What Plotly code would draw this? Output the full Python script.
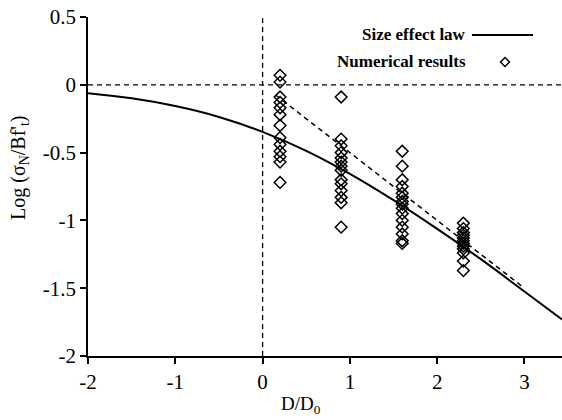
import plotly.graph_objects as go

# Size effect law curve
law_x = [-2.0, -1.5, -1.0, -0.5, 0.0, 0.5, 1.0, 1.5, 2.0, 2.5, 3.0, 3.43]
law_y = [-0.063, -0.100, -0.157, -0.237, -0.347, -0.487, -0.657, -0.851, -1.063, -1.286, -1.524, -1.73]

# Asymptote (dashed, slope -1/2)
asym_x = [0.15, 3.0]
asym_y = [-0.075, -1.5]

# Numerical results
num_x = ([0.2] * 13) + ([0.9] * 14) + ([1.6] * 15) + ([2.3] * 12)
num_y = [0.07, 0.02, -0.09, -0.13, -0.17, -0.22, -0.30, -0.39, -0.44, -0.49, -0.53, -0.57, -0.72,
         -0.09, -0.40, -0.45, -0.50, -0.54, -0.57, -0.60, -0.63, -0.70, -0.73, -0.78, -0.83, -0.87, -1.05,
         -0.49, -0.60, -0.70, -0.75, -0.80, -0.83, -0.86, -0.88, -0.91, -0.95, -1.00, -1.05, -1.10, -1.15, -1.17,
         -1.02, -1.06, -1.09, -1.11, -1.13, -1.15, -1.17, -1.19, -1.21, -1.24, -1.30, -1.37]

x_range = [-2, 3.43]
y_range = [-2, 0.5]
x_ticks = [-2, -1, 0, 1, 2, 3]
x_tick_text = ["-2", "-1", "0", "1", "2", "3"]
y_ticks = [-2, -1.5, -1, -0.5, 0, 0.5]
y_tick_text = ["-2", "-1.5", "-1", "-0.5", "0", "0.5"]

FONT = "Liberation Serif"

fig = go.Figure()
fig.add_trace(go.Scatter(x=law_x, y=law_y, mode="lines", line=dict(color="black", width=2, shape="spline"),
                         showlegend=False))
fig.add_trace(go.Scatter(x=asym_x, y=asym_y, mode="lines", line=dict(color="black", width=1.5, dash="5px,4px"),
                         showlegend=False))
fig.add_trace(go.Scatter(x=num_x, y=num_y, mode="markers",
                         marker=dict(symbol="diamond-open", size=9, color="black", line=dict(width=1.5, color="black")),
                         showlegend=False))

# reference dashed lines at x=0 and y=0
fig.add_shape(type="line", xref="x", yref="y", x0=0, x1=0, y0=y_range[0], y1=y_range[1],
              line=dict(color="black", width=1.3, dash="5px,4px"))
fig.add_shape(type="line", xref="x", yref="y", x0=x_range[0], x1=x_range[1], y0=0, y1=0,
              line=dict(color="black", width=1.3, dash="5px,4px"))

# custom legend (symbols on the right)
W, H = 562, 420
ml, mr, mt, mb = 88, 0, 17, 64
pw, ph = W - ml - mr, H - mt - mb

def px(xp):
    return (xp - ml) / pw

def py(yp):
    return (H - mb - yp) / ph

fig.add_annotation(xref="paper", yref="paper", x=px(468), y=py(35), text="<b>Size effect law</b>",
                   showarrow=False, xanchor="right", yanchor="middle", font=dict(family=FONT, size=17, color="black"))
fig.add_annotation(xref="paper", yref="paper", x=px(468), y=py(62), text="<b>Numerical results</b>",
                   showarrow=False, xanchor="right", yanchor="middle", font=dict(family=FONT, size=17, color="black"))
fig.add_shape(type="line", xref="paper", yref="paper", x0=px(472), x1=px(533), y0=py(35), y1=py(35),
              line=dict(color="black", width=2))
cx, cy, r = 505, 62, 4.5
fig.add_shape(type="path", xref="paper", yref="paper",
              path=f"M {px(cx - r)} {py(cy)} L {px(cx)} {py(cy - r)} L {px(cx + r)} {py(cy)} L {px(cx)} {py(cy + r)} Z",
              line=dict(color="black", width=1.5))

# axis titles
fig.add_annotation(xref="paper", yref="paper", x=px(301), y=py(405), text="D/D<sub>0</sub>",
                   showarrow=False, xanchor="center", yanchor="middle", font=dict(family=FONT, size=19, color="black"))
fig.add_annotation(xref="paper", yref="paper", x=px(20), y=py(168), text="Log (σ<sub>N</sub>/Bf'<sub>t</sub>)",
                   showarrow=False, textangle=-90, xanchor="center", yanchor="middle",
                   font=dict(family=FONT, size=20, color="black"))

fig.update_xaxes(range=x_range, tickvals=x_ticks, ticktext=x_tick_text, ticks="outside", ticklen=6, tickwidth=1.5,
                 tickcolor="black", showline=True, linecolor="black", linewidth=1.5, showgrid=False, zeroline=False,
                 tickfont=dict(family=FONT, size=21, color="black"))
fig.update_yaxes(range=y_range, tickvals=y_ticks, ticktext=y_tick_text, ticks="outside", ticklen=6, tickwidth=1.5,
                 tickcolor="black", showline=True, linecolor="black", linewidth=1.5, showgrid=False, zeroline=False,
                 tickfont=dict(family=FONT, size=21, color="black"))

fig.update_layout(width=W, height=H, margin=dict(l=ml, r=mr, t=mt, b=mb), plot_bgcolor="white",
                  paper_bgcolor="white", showlegend=False)

fig.write_html("out.html")
